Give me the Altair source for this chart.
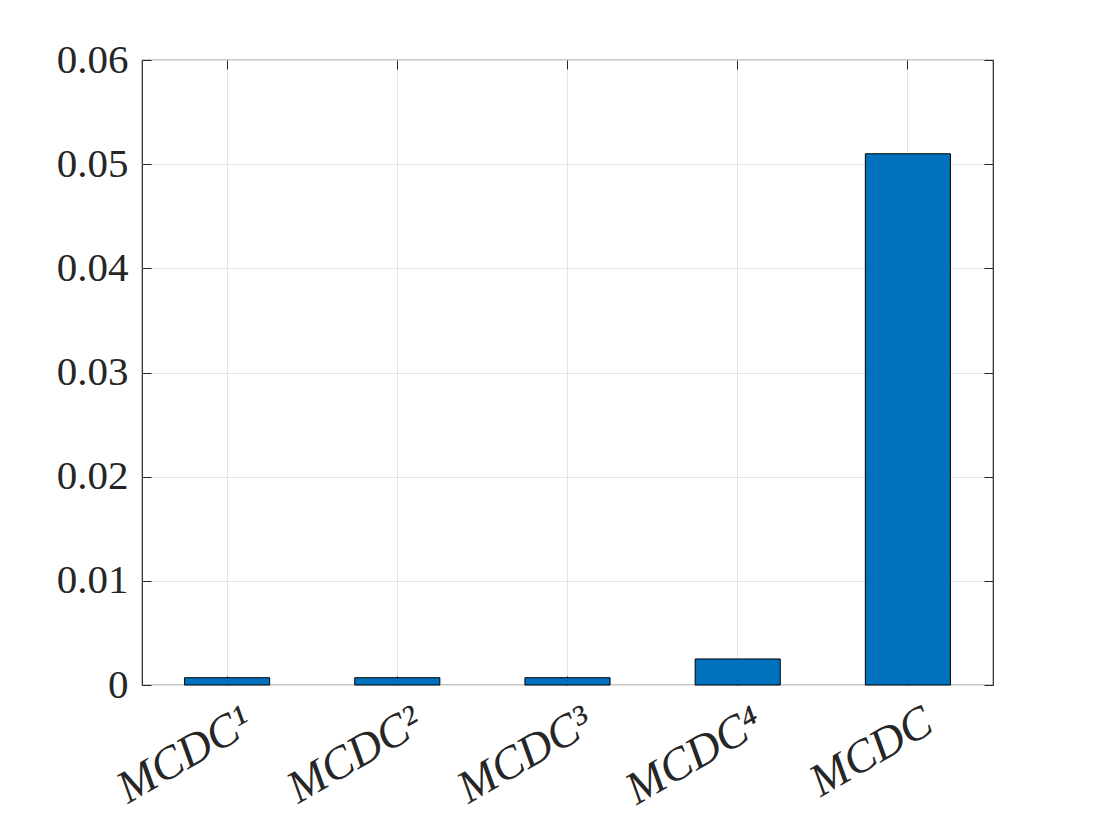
import altair as alt
import pandas as pd

categories = ["MCDC¹", "MCDC²", "MCDC³", "MCDC⁴", "MCDC"]
values = [0.0007, 0.0007, 0.0007, 0.0025, 0.051]
y_ticks = [0, 0.01, 0.02, 0.03, 0.04, 0.05, 0.06]

df = pd.DataFrame({"cat": categories, "val": values})

W, H = 851, 625
FONT = "Liberation Serif"
INK = "#262626"

xscale = alt.Scale(paddingInner=0.5, paddingOuter=0.25)
yscale = alt.Scale(domain=[0, 0.06], nice=False)

base = alt.Chart(df)

bars = base.mark_bar(color="#0072BD", stroke="#000000", strokeWidth=1).encode(
    x=alt.X("cat:N", sort=categories, scale=xscale, title=None,
            axis=alt.Axis(orient="bottom", labelAngle=-30, labelAlign="right",
                          labelBaseline="top", labelFont=FONT, labelFontSize=46,
                          labelFontStyle="italic", labelColor=INK, labelPadding=14,
                          labelOffset=10, labelLimit=0, labelOverlap=False,
                          ticks=False, domain=False, grid=True, gridColor="#e3e3e3")),
    y=alt.Y("val:Q", scale=yscale, title=None,
            axis=alt.Axis(orient="left", values=y_ticks, labelFont=FONT, labelFontSize=41,
                          labelColor=INK, labelPadding=14, ticks=False, domain=False,
                          grid=True, gridColor="#e3e3e3", labelLimit=0,
                          labelExpr="datum.value == 0 ? '0' : format(datum.value, '.2f')")),
)

# inner ticks: bottom edge and left edge
ticks_a = base.mark_bar(opacity=0).encode(
    x=alt.X("cat:N", sort=categories, scale=xscale, title=None,
            axis=alt.Axis(orient="top", offset=-H, labels=False, domain=False, grid=False,
                          ticks=True, tickSize=9, tickColor=INK, tickWidth=1)),
    y=alt.Y("val:Q", scale=yscale, title=None,
            axis=alt.Axis(orient="right", offset=-W, values=y_ticks, labels=False, domain=False,
                          grid=False, ticks=True, tickSize=9, tickColor=INK, tickWidth=1)),
)

# inner ticks: top edge and right edge
ticks_b = base.mark_bar(opacity=0).encode(
    x=alt.X("cat:N", sort=categories, scale=xscale, title=None,
            axis=alt.Axis(orient="bottom", offset=-H, labels=False, domain=False, grid=False,
                          ticks=True, tickSize=9, tickColor=INK, tickWidth=1)),
    y=alt.Y("val:Q", scale=yscale, title=None,
            axis=alt.Axis(orient="left", offset=-W, values=y_ticks, labels=False, domain=False,
                          grid=False, ticks=True, tickSize=9, tickColor=INK, tickWidth=1)),
)

chart = alt.layer(bars, ticks_a, ticks_b).resolve_axis(
    x="independent", y="independent"
).properties(
    width=W, height=H,
    autosize=alt.AutoSizeParams(type="none"),
    padding={"left": 134, "top": 52, "right": 86, "bottom": 125},
    background="white",
).configure_view(
    stroke=INK, strokeWidth=1.2
)

chart.save("out.html", embed_options={"renderer": "svg", "actions": False})
